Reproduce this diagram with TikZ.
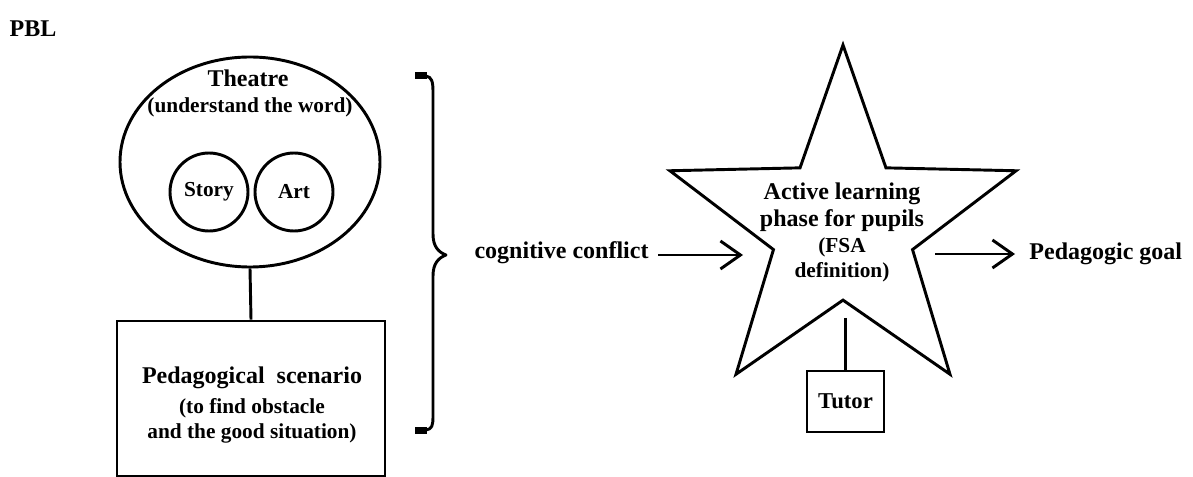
\documentclass[tikz,border=0pt]{standalone}
\usepackage{fontspec}
\setmainfont{Liberation Serif}
\usetikzlibrary{shapes.geometric,arrows.meta}
\newlength{\upx}\setlength{\upx}{0.75pt}
\begin{document}
\begin{tikzpicture}[x=0.75pt,y=-0.75pt, line width=2.2pt,
  big/.style={font=\bfseries\fontsize{18}{20.5}\selectfont, inner sep=0, align=center},
  small/.style={font=\bfseries\fontsize{16}{18.75}\selectfont, inner sep=0, align=center},
  arr/.style={-{Straight Barb[length=15pt,width=21pt]}}]
\useasboundingbox (0,0) rectangle (1193,477);

% label
\node[big] (pbl) at (33,29) {PBL};

% theatre circle and inner circles
\node[draw, ellipse, minimum width=195pt, minimum height=157.5pt, inner sep=0] (theatre) at (250,162) {};
\node[big] (theatretxt) at (248,78) {Theatre};
\node[small] (underst) at (250,107) {(understand the word)};
\node[draw, circle, minimum size=58.5pt, inner sep=0, small] (story) at (209,192) {Story};
\node[draw, circle, minimum size=58.5pt, inner sep=0, small] (art) at (294,192) {Art};

% scenario box
\node[draw, minimum width=201pt, minimum height=116.25pt, inner sep=0] (scen) at (251,398.5) {};
\node[big] (scentxt) at (252,378) {Pedagogical\ \ scenario};
\node[small] (scensub) at (252,421) {(to find obstacle\\and the good situation)};
\draw (theatre.south) -- (scen.north);

% brace
\draw[line cap=round, line join=round] (418,76) -- (426,76) .. controls (432,77) and (433,82) .. (433,92)
  -- (433,234) .. controls (433,246) and (438,252) .. (446,255)
  .. controls (438,258) and (433,264) .. (433,276)
  -- (433,416) .. controls (433,426) and (432,429) .. (426,430) -- (418,430);
\fill (415,72.5) rectangle (427,79.5);
\fill (415,426.5) rectangle (427,433.5);

% cognitive conflict
\node[big, anchor=east] (cc) at (650,253) {cognitive conflict};
\coordinate (ain) at (743,255);
\draw[arr] ([xshift=6pt,yshift=-1.5pt]cc.east) -- (ain);

% star
\node[draw, star, star points=5, star point ratio=2.49, minimum size=273pt, inner sep=0] (star) at (843,227) {};
\node[big] (active) at (842,207) {Active learning\\phase for pupils};
\node[small] (fsa) at (842,260) {(FSA\\definition)};

% tutor
\node[draw, minimum width=57.75pt, minimum height=45.75pt, font=\bfseries\fontsize{17}{20}\selectfont, inner sep=0] (tutor) at (845.5,401.5) {Tutor};
\coordinate (tl) at (845.5,318);
\draw (tl) -- (tutor.north);

% pedagogic goal
\node[big, anchor=west] (goal) at (1028,254) {Pedagogic goal};
\coordinate (aout) at (935,254);
\draw[arr] (aout) -- ([xshift=-9.75pt]goal.west);
\end{tikzpicture}
\end{document}
